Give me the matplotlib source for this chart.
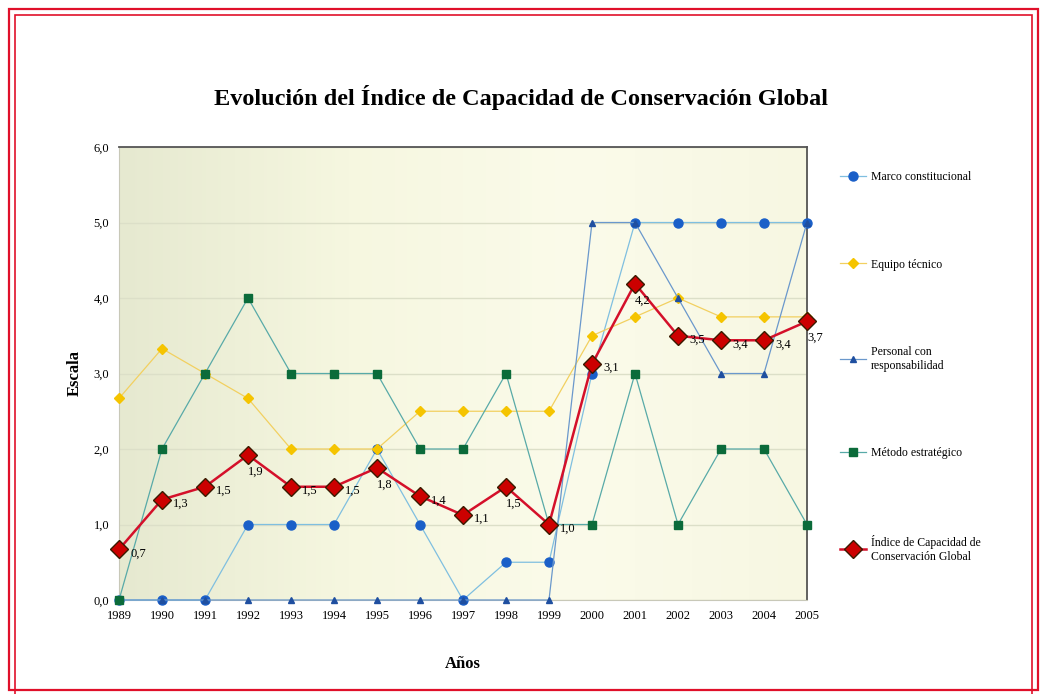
import matplotlib
matplotlib.use("Agg")
import matplotlib.pyplot as plt
from matplotlib.patches import Rectangle
from matplotlib.colors import LinearSegmentedColormap
import numpy as np

# data
years = list(range(1989, 2006))
marco = [0, 0, 0, 1, 1, 1, 2, 1, 0, 0.5, 0.5, 3, 5, 5, 5, 5, 5]
equipo = [2.67, 3.33, 3, 2.67, 2, 2, 2, 2.5, 2.5, 2.5, 2.5, 3.5, 3.75, 4, 3.75, 3.75, 3.75]
personal = [0, 0, 0, 0, 0, 0, 0, 0, 0, 0, 0, 5, 5, 4, 3, 3, 5]
metodo = [0, 2, 3, 4, 3, 3, 3, 2, 2, 3, 1, 1, 3, 1, 2, 2, 1]
indice = [0.67, 1.33, 1.5, 1.92, 1.5, 1.5, 1.75, 1.375, 1.125, 1.5, 1.0,
          3.125, 4.19, 3.5, 3.44, 3.44, 3.69]
indice_labels = ["0,7", "1,3", "1,5", "1,9", "1,5", "1,5", "1,8", "1,4", "1,1",
                 "1,5", "1,0", "3,1", "4,2", "3,5", "3,4", "3,4", "3,7"]

plt.rcParams['font.family'] = ['Liberation Serif', 'DejaVu Serif']

W, H = 1042, 694
fig = plt.figure(figsize=(W/100, H/100), dpi=100)
ax = fig.add_axes([119/W, 1-600/H, (807-119)/W, (600-147)/H])

# creamy background with slight gradient
grad = np.linspace(0, 1, 256).reshape(1, -1)
cm = LinearSegmentedColormap.from_list("bg", ["#e6e9d0", "#f6f7e0", "#fbfbea", "#f7f7e2"])
ax.imshow(grad, aspect='auto', cmap=cm, extent=[0, 1, 0, 1],
          transform=ax.transAxes, zorder=0)

ax.set_xlim(1989, 2005)
ax.set_ylim(0, 6)
ax.set_yticks(range(0, 7))
ax.set_yticklabels([f"{v},0" for v in range(0, 7)])
ax.set_xticks(years)
ax.set_xticklabels([str(y) for y in years])
ax.tick_params(axis='both', length=0, labelsize=9, pad=7)
ax.grid(axis='y', color='#dcdfc8', lw=1)
ax.set_axisbelow(True)
for s in ['left', 'bottom']:
    ax.spines[s].set_color('#c8c8b8')
for s in ['top', 'right']:
    ax.spines[s].set_color('#555555')
    ax.spines[s].set_linewidth(1.3)

ax.plot(years, marco, color='#7fbfe0', lw=0.9, marker='o', ms=6.5,
        mfc='#1a5fc8', mec='#1a5fc8', clip_on=False, zorder=3,
        label='Marco constitucional')
ax.plot(years, equipo, color='#f2d060', lw=0.9, marker='D', ms=5,
        mfc='#f5c400', mec='#f5c400', clip_on=False, zorder=3,
        label='Equipo técnico')
ax.plot(years, personal, color='#6a98cc', lw=0.9, marker='^', ms=5,
        mfc='#1f4fa0', mec='#1f4fa0', clip_on=False, zorder=3,
        label='Personal con\nresponsabilidad')
ax.plot(years, metodo, color='#58aaa8', lw=0.9, marker='s', ms=6,
        mfc='#0b6b3a', mec='#0b6b3a', clip_on=False, zorder=3,
        label='Método estratégico')
ax.plot(years, indice, color='#d4102a', lw=1.8, marker='D', ms=9,
        mfc='#cc0000', mec='#3a1a00', mew=1, clip_on=False, zorder=4,
        label='Índice de Capacidad de\nConservación Global')

below = {3, 6, 9, 12, 16}
for i, (x, y, t) in enumerate(zip(years, indice, indice_labels)):
    off = (0, -12) if i in below else (8, -3)
    ax.annotate(t, (x, y), xytext=off, textcoords='offset points',
                ha='left', va='center', fontsize=9, zorder=5)

ax.set_ylabel("Escala", fontsize=12, fontweight='bold', labelpad=8)
ax.set_xlabel("Años", fontsize=12, fontweight='bold', labelpad=25)

fig.text(0.5, 1-97/H, "Evolución del Índice de Capacidad de Conservación Global",
         ha='center', va='center', fontsize=17.5, fontweight='bold')

fig.legend(loc='upper left', bbox_to_anchor=(840/W, 1-171/H),
           frameon=False, fontsize=8.5, labelspacing=6.4, handlelength=2.2,
           handletextpad=0.4, borderpad=0, borderaxespad=0)

# double red frame: (left, top, right, bottom) in pixels
for (l, t, r, b), lw in [((9, 9, 1038, 690), 1.6), ((15, 15, 1032, 700), 1.2)]:
    fig.patches.append(Rectangle((l/W, 1-b/H), (r-l)/W, (b-t)/H,
                                 transform=fig.transFigure, fill=False,
                                 ec='#e0102a', lw=lw))

fig.savefig("out.png", dpi=100)
